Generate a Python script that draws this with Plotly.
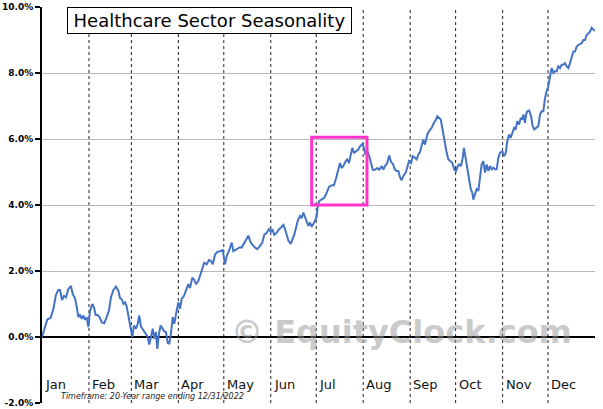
import plotly.graph_objects as go

# ---------------- data ----------------
day = [0, 2.0, 3.5, 5.7, 7.5, 9.2, 10.8, 11.9, 13.2, 14.5, 15.8, 17.4, 19.1, 20.3, 21.8, 22.9, 24.0, 25.1, 26.2, 27.3,
       28.4, 29.5, 30.6, 31.7, 33.2, 34.3, 35.4, 36.5, 37.8, 39.4, 41.1, 42.7, 44.2, 45.5, 47.1, 48.8, 50.4, 51.5,
       52.6, 53.7, 54.8, 55.9, 57.0, 58.1, 59.6, 60.7, 62.0, 63.2, 64.2, 65.3, 66.9, 68.6, 69.8, 70.8, 72.0, 73.1,
       74.1, 75.2, 76.1, 77.2, 78.3, 79.7, 80.7, 81.8, 83.0, 84.0, 85.1, 86.3, 87.3, 88.9, 90.0, 91.1, 92.2, 93.7,
       95.5, 96.6, 97.7, 99.2, 100.5, 101.7, 103.2, 104.8, 106.1, 107.1, 108.7, 110.2, 111.6, 112.7, 114.2, 115.7,
       117.5, 119.3, 120.8, 121.9, 123.6, 125.2, 126.3, 128.5, 130.7, 131.8, 133.3, 134.7, 136.2, 137.3, 138.4,
       140.6, 142.1, 143.9, 145.4, 146.7, 148.3, 149.8, 151.0, 152.0, 153.3, 154.9, 156.4, 157.8, 159.3, 160.4,
       161.5, 162.6, 164.2, 165.5, 166.5, 167.7, 168.8, 170.3, 171.4, 172.5, 173.6, 174.7, 175.8, 176.9, 178.0,
       179.1, 180.2, 181.3, 182.0, 183.0, 184.6, 186.3, 187.9, 189.4, 191.2, 192.7, 194.1, 195.6, 196.7, 197.8,
       198.9, 200.5, 201.5, 202.6, 203.8, 204.8, 205.9, 207.3, 208.8, 209.9, 211.4, 212.5, 213.4, 214.7, 216.0,
       217.2, 218.3, 219.8, 221.3, 222.6, 224.2, 225.3, 226.4, 227.9, 229.2, 230.4, 231.5, 233.0, 234.1, 235.2,
       236.4, 237.4, 238.5, 240.1, 241.1, 242.2, 243.6, 244.7, 246.2, 247.3, 248.4, 249.5, 250.6, 251.7, 252.8,
       254.3, 255.6, 257.2, 258.7, 260.1, 260.9, 262.0, 263.2, 263.8, 264.9, 266.0, 267.1, 268.2, 269.8, 270.8,
       272.1, 273.3, 274.4, 275.4, 276.6, 277.7, 278.5, 279.7, 280.7, 281.8, 283.0, 284.0, 284.7, 285.8, 286.9,
       288.0, 289.1, 290.2, 291.3, 292.4, 293.5, 294.6, 295.7, 296.8, 297.9, 299.0, 300.1, 301.2, 302.3, 303.8,
       305.0, 306.1, 307.1, 308.3, 309.4, 310.4, 311.6, 312.7, 313.7, 314.9, 316.0, 317.0, 317.7, 318.8, 319.5,
       320.3, 321.6, 322.8, 323.9, 324.9, 326.5, 327.6, 328.7, 329.8, 330.9, 332.0, 333.1, 334.2, 335.3, 336.4,
       337.5, 338.6, 339.7, 340.8, 341.9, 343.0, 344.1, 345.2, 346.3, 347.4, 348.5, 349.6, 350.7, 351.8, 352.9,
       354.0, 355.1, 356.2, 357.3, 358.4, 359.5, 360.6, 361.7, 362.8, 363.9, 365.0]
pct = [0, 0.35, 0.53, 0.58, 0.85, 1.27, 1.43, 1.42, 1.12, 1.25, 1.2, 1.45, 1.55, 1.3, 1.17, 0.92, 0.6, 0.68, 0.55, 0.65,
       0.52, 0.6, 0.3, 0.8, 1.0, 0.9, 0.67, 0.67, 0.62, 0.45, 0.42, 0.6, 0.8, 1.2, 1.42, 1.53, 1.4, 1.18,
       1.15, 1.0, 1.05, 0.92, 0.62, 0.3, 0.0, 0.35, 0.25, 0.4, 0.65, 0.32, 0.2, 0.1, 0.0, -0.23, 0.05, 0.25,
       -0.05, 0.15, -0.36, 0.1, 0.35, 0.25, 0.17, 0.15, -0.19, -0.2, 0.1, 0.6, 0.4, 0.8, 1.05, 0.85, 1.15, 1.25,
       1.45, 1.6, 1.48, 1.8, 1.73, 1.6, 1.7, 1.95, 2.1, 2.25, 2.2, 2.33, 2.3, 2.2, 2.5, 2.58,
       2.6, 2.63, 2.2, 2.45, 2.63, 2.86, 2.6, 2.65, 2.72, 2.71, 2.82, 2.94, 3.07, 2.92, 2.82,
       2.71, 2.66, 2.76, 2.86, 3.1, 3.16, 3.27, 3.19, 3.27, 3.1, 3.16, 3.27, 3.32, 3.4, 3.27,
       3.1, 2.92, 2.82, 2.97, 3.1, 3.32, 3.52, 3.67, 3.6, 3.77, 3.64, 3.52, 3.37, 3.47, 3.34,
       3.42, 3.52, 3.64, 3.97, 4.12, 4.17, 4.22, 4.37, 4.55, 4.6, 4.6, 4.81, 5.12, 5.27, 5.12,
       5.18, 5.33, 5.38, 5.27, 5.58, 5.73, 5.58, 5.63, 5.68, 5.78, 5.85, 5.73, 5.53, 5.63, 5.48,
       5.27, 5.07, 5.07, 5.12, 5.07, 5.18, 5.07, 5.18, 5.27, 5.5, 5.3, 5.25, 5.07, 5.03, 5.03,
       4.83, 4.75, 4.88, 4.98, 5.13, 5.33, 5.27, 5.48, 5.43, 5.38, 5.53, 5.6, 5.8, 5.98, 5.83,
       6.13, 6.25, 6.34, 6.49, 6.59, 6.69, 6.64, 6.59, 6.44, 6.14, 5.78, 5.58, 5.38, 5.33, 5.28,
       5.08, 5.03, 5.18, 5.23, 5.18, 5.43, 5.73, 5.38, 5.03, 4.83, 4.48, 4.38, 4.16, 4.33, 4.48,
       4.43, 4.83, 5.23, 5.33, 4.98, 5.23, 5.03, 5.18, 5.08, 5.13, 5.08, 5.08, 5.43, 5.58, 5.63,
       5.48, 5.58, 5.93, 6.14, 6.04, 6.19, 6.34, 6.29, 6.54, 6.44, 6.64, 6.59, 6.74, 6.49, 6.74,
       6.84, 6.86, 6.69, 6.39, 6.29, 6.34, 6.39, 6.74, 6.84, 6.84, 7.24, 7.45, 7.6, 7.9, 8.15,
       8.0, 8.05, 8.05, 8.2, 8.15, 8.25, 8.25, 8.3, 8.2, 8.15, 8.3, 8.5, 8.65, 8.65, 8.8,
       8.85, 8.87, 8.9, 9.0, 9.0, 9.15, 9.2, 9.25, 9.37, 9.33, 9.27]

months = ["Jan", "Feb", "Mar", "Apr", "May", "Jun", "Jul", "Aug", "Sep", "Oct", "Nov", "Dec"]
month_days = [31, 28, 31, 30, 31, 30, 31, 31, 30, 31, 30, 31]
y_ticks = [-2, 0, 2, 4, 6, 8, 10]
highlight_x = [178, 214.5]   # day-of-year span of the highlighted window
highlight_y = [4.0, 6.05]

title_text = "Healthcare Sector Seasonality"
footnote = "Timeframe: 20-Year range ending 12/31/2022"
watermark = "© EquityClock.com"

# ---------------- figure ----------------
month_start = []
acc = 0
for d in month_days:
    month_start.append(acc)
    acc += d
year_len = acc

fig = go.Figure()
fig.add_trace(go.Scatter(x=day, y=pct, mode="lines",
                         line=dict(color="#4472C4", width=2), hoverinfo="skip"))

shapes = []
for s in month_start[1:]:
    shapes.append(dict(type="line", xref="x", yref="paper", x0=s, x1=s, y0=0, y1=1,
                       line=dict(color="#222222", width=1, dash="dot"), layer="below"))
shapes.append(dict(type="rect", xref="x", yref="y",
                   x0=highlight_x[0], x1=highlight_x[1], y0=highlight_y[0], y1=highlight_y[1],
                   line=dict(color="#FF33CC", width=3)))

annotations = []
for name, s in zip(months, month_start):
    annotations.append(dict(x=s, y=0.046, xref="x", yref="paper", text=name, showarrow=False,
                            xanchor="left", yanchor="middle", xshift=1,
                            font=dict(family="DejaVu Sans", size=13, color="#111111")))
annotations.append(dict(x=(401 - 42) / 553, y=(403 - 332) / 396, xref="paper", yref="paper",
                        text=watermark, showarrow=False, xanchor="center", yanchor="middle",
                        font=dict(family="DejaVu Sans", size=32, color="rgba(150,150,150,0.5)",
                                  weight="bold")))
annotations.append(dict(x=(152 - 42) / 553, y=(403 - 396) / 396, xref="paper", yref="paper",
                        text="<i>" + footnote + "</i>", showarrow=False,
                        xanchor="center", yanchor="middle",
                        font=dict(family="DejaVu Sans", size=8, color="#222222")))
annotations.append(dict(x=(67 - 42) / 553, y=1.0, xref="paper", yref="paper",
                        text=title_text, showarrow=False, xanchor="left", yanchor="top",
                        width=279, height=21, align="center",
                        bgcolor="white", bordercolor="black", borderwidth=1, borderpad=2,
                        font=dict(family="DejaVu Sans", size=18, color="black")))

fig.update_layout(
    template="none",
    width=603, height=409,
    margin=dict(l=42, r=8, t=7, b=6, autoexpand=False),
    paper_bgcolor="white", plot_bgcolor="white",
    showlegend=False,
    shapes=shapes, annotations=annotations,
    xaxis=dict(range=[0, year_len], showgrid=False, zeroline=False, showticklabels=False,
               ticks="", showline=False, automargin=False),
    yaxis=dict(range=[-2, 10], tickvals=y_ticks, ticktext=[f"{v:.1f}%" for v in y_ticks],
               showgrid=True, gridcolor="#B8B8B8", gridwidth=1, automargin=False,
               zeroline=True, zerolinecolor="black", zerolinewidth=1.5,
               showline=True, linecolor="black", linewidth=2,
               ticks="outside", ticklen=5, tickcolor="black", tickwidth=2,
               tickfont=dict(family="DejaVu Sans", size=9, color="black", weight="bold")),
)

fig.write_html("out.html")
